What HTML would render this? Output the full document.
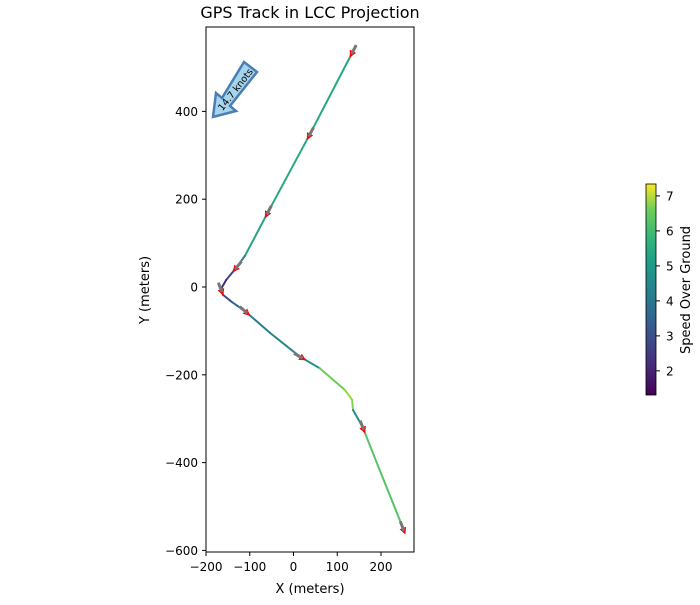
<!DOCTYPE html>
<html><head><meta charset="utf-8"><style>
body{margin:0;background:#fff;font-family:"Liberation Sans","DejaVu Sans",sans-serif;}
svg text{font-family:"DejaVu Sans","Liberation Sans",sans-serif;}
</style></head><body>
<svg id="chart" width="700" height="600" viewBox="0 0 700 600" xmlns="http://www.w3.org/2000/svg">
<defs>
<linearGradient id="viridis" x1="0" y1="1" x2="0" y2="0">
<stop offset="0" stop-color="#440154"/><stop offset="0.13" stop-color="#482878"/><stop offset="0.25" stop-color="#3e4989"/><stop offset="0.38" stop-color="#31688e"/><stop offset="0.5" stop-color="#26828e"/><stop offset="0.63" stop-color="#1f9e89"/><stop offset="0.75" stop-color="#35b779"/><stop offset="0.88" stop-color="#6ece58"/><stop offset="1" stop-color="#fde725"/>
</linearGradient>
</defs>
<text x="310" y="18" font-size="16" text-anchor="middle">GPS Track in LCC Projection</text>
<g id="plot"></g>
<rect x="206" y="27" width="208" height="525" fill="none" stroke="#000" stroke-width="1"/>
<text x="310" y="593" font-size="13" text-anchor="middle">X (meters)</text>
<text transform="translate(149,290) rotate(-90)" font-size="13" text-anchor="middle">Y (meters)</text>
<g id="wind">
<polygon points="244,62 257,72 230,106 236,111 213,117 216,93 222,98" fill="#a6d4ec" stroke="#4a7fb5" stroke-width="2.5" stroke-linejoin="miter"/>
<text transform="translate(236,90) rotate(-52)" font-size="9.5" text-anchor="middle" dominant-baseline="middle">14.7 knots</text>
</g>
<rect x="646" y="184" width="10" height="211" fill="url(#viridis)" stroke="#000" stroke-width="0.8"/>
<g id="cbticks"></g>
<text transform="translate(690,290) rotate(-90)" font-size="13" text-anchor="middle">Speed Over Ground</text>
</svg>
<script>
const xTicks=[-200,-100,0,100,200];
const xTickLabels=["−200","−100","0","100","200"];
const yTicks=[400,200,0,-200,-400,-600];
const yTickLabels=["400","200","0","−200","−400","−600"];
const cbTicks=[2,3,4,5,6,7];
const trackX=[136,38,-58,-111,-129,-154,-166,-161,-141,-111,-53,15,60,118,134,136,158,197,243,250];
const trackY=[537,349,171,71,46,16,-5,-18,-34,-55,-105,-159,-185,-235,-257,-280,-319,-417,-531,-549];
const trackSpeed=[4.9,4.9,4.8,3.8,2.6,2.0,2.1,2.7,3.3,3.8,4.1,4.4,6.0,6.4,6.2,4.3,5.7,5.7,5.7,5.7];
const arrowIdx=[0,1,2,4,6,9,11,16,19];
const NS="http://www.w3.org/2000/svg";
const sx=v=>293.5+v*0.4375, sy=v=>287-v*0.439;
const cbY=v=>395-(v-1.31)*(211/(7.34-1.31));
function viridis(t){const c=[[68,1,84],[72,40,120],[62,73,137],[49,104,142],[38,130,142],[31,158,137],[53,183,121],[110,206,88],[181,222,43],[253,231,37]];t=Math.max(0,Math.min(1,t))*(c.length-1);const i=Math.min(Math.floor(t),c.length-2),f=t-i;return `rgb(${c[i].map((a,k)=>Math.round(a+(c[i+1][k]-a)*f)).join(',')})`;}
const plot=document.getElementById('plot');
function mk(tag,at){const e=document.createElementNS(NS,tag);for(const k in at)e.setAttribute(k,at[k]);return e;}
const svg=document.getElementById('chart');
xTicks.forEach((v,i)=>{const x=sx(v);
 const t=mk('line',{x1:x,x2:x,y1:552,y2:556,stroke:'#000'});svg.appendChild(t);
 const l=mk('text',{x:x,y:571,'font-size':12,'text-anchor':'middle'});l.textContent=xTickLabels[i];svg.appendChild(l);});
yTicks.forEach((v,i)=>{const y=sy(v);
 const t=mk('line',{x1:202,x2:206,y1:y,y2:y,stroke:'#000'});svg.appendChild(t);
 const l=mk('text',{x:198,y:y+4.5,'font-size':12,'text-anchor':'end'});l.textContent=yTickLabels[i];svg.appendChild(l);});
for(let i=0;i<trackX.length-1;i++){
 const s=mk('line',{x1:sx(trackX[i]),y1:sy(trackY[i]),x2:sx(trackX[i+1]),y2:sy(trackY[i+1]),stroke:viridis((trackSpeed[i]-1.31)/6.03),'stroke-width':2,'stroke-linecap':'round'});
 plot.appendChild(s);}
arrowIdx.forEach(i=>{const j=i<trackX.length-1?i+1:i,k=i<trackX.length-1?i:i-1;
 const x=sx(trackX[i]),y=sy(trackY[i]);let dx=sx(trackX[j])-sx(trackX[k]),dy=sy(trackY[j])-sy(trackY[k]);const L=Math.hypot(dx,dy);dx/=L;dy/=L;
 const px=-dy,py=dx;const tx=x+dx*7,ty=y+dy*7;
 const g=mk('g',{});
 g.appendChild(mk('polygon',{points:`${tx},${ty} ${tx-dx*7+px*3.5},${ty-dy*7+py*3.5} ${tx-dx*7-px*3.5},${ty-dy*7-py*3.5}`,fill:'red'}));
 g.appendChild(mk('line',{x1:x-dx*7,y1:y-dy*7,x2:x+dx*3,y2:y+dy*3,stroke:'#777','stroke-width':3}));
 plot.appendChild(g);});
const cb=document.getElementById('cbticks');
cbTicks.forEach(v=>{const y=cbY(v);
 const t=mk('line',{x1:656,x2:660,y1:y,y2:y,stroke:'#000'});cb.appendChild(t);
 const l=mk('text',{x:666,y:y+4.5,'font-size':12});l.textContent=v;cb.appendChild(l);});
</script>
</body></html>
